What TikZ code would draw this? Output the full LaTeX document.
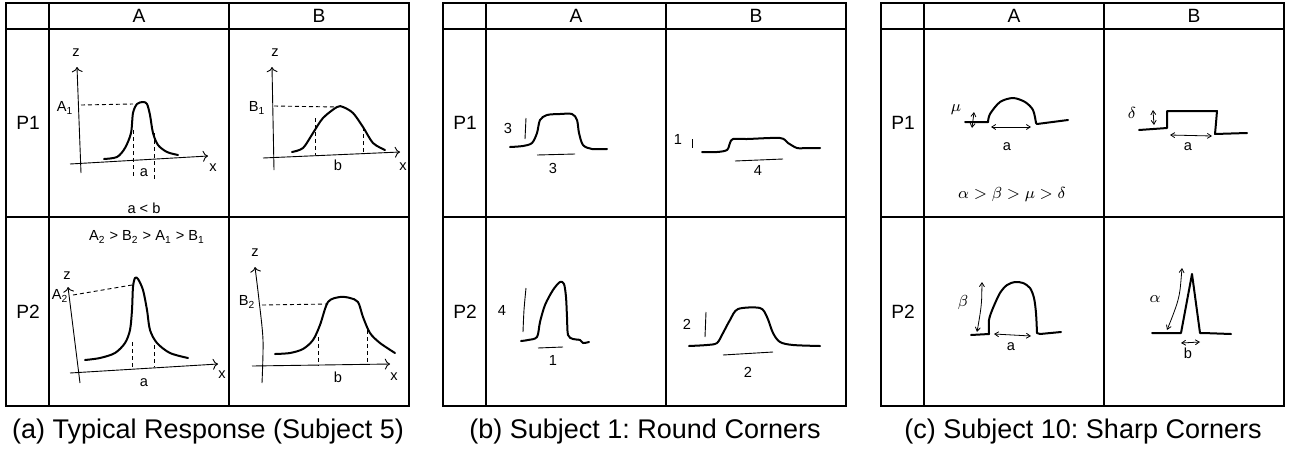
\documentclass[tikz,border=0pt]{standalone}
\usepackage{fontspec}
\setmainfont{Liberation Sans}
\usepackage{amsmath}
\usetikzlibrary{arrows.meta}
\frenchspacing

\tikzset{
    gridline/.style={line width=1pt},
    sketch/.style={line width=1pt, line cap=round, line join=round},
    thinline/.style={line width=0.45pt},
    guide/.style={line width=0.45pt, dash pattern=on 2pt off 1.5pt},
    span/.style={line width=0.4pt, {Straight Barb[length=2pt,width=2.5pt]}-{Straight Barb[length=2pt,width=2.5pt]}},
    lbl/.style={font=\fontsize{7.3}{8.5}\selectfont, inner sep=0pt},
    hdr/.style={font=\fontsize{9.6}{11}\selectfont, inner sep=0pt},
    gk/.style={font=\fontsize{8.5}{10}\selectfont, inner sep=0pt},
    captxt/.style={font=\fontsize{13.5}{16}\selectfont, inner sep=0pt}
}

\begin{document}
\begin{tikzpicture}[x=0.5pt, y=-0.5pt, >=To]
    \useasboundingbox (0,0) rectangle (1290,451);

    % 1. Ba bảng và chú thích
    \foreach \ox/\capt in {6/{(a) Typical Response (Subject 5)},
                           443/{(b) Subject 1: Round Corners},
                           881/{(c) Subject 10: Sharp Corners}} {
        \draw[gridline] (\ox,3) rectangle (\ox+403,406);
        \draw[gridline] (\ox,29) -- (\ox+403,29);
        \draw[gridline] (\ox,217) -- (\ox+403,217);
        \draw[gridline] (\ox+43,3) -- (\ox+43,406);
        \draw[gridline] (\ox+223,3) -- (\ox+223,406);
        \node[hdr] (hA\ox) at (\ox+133,16) {A};
        \node[hdr] (hB\ox) at (\ox+313,16) {B};
        \node[hdr] (rP1\ox) at (\ox+22,123) {P1};
        \node[hdr] (rP2\ox) at (\ox+22,312) {P2};
        \node[captxt] (cap\ox) at (\ox+202,432) {\capt};
    }

    % 2. Bảng (a): ô P1-A
    \node[lbl] (zA1) at (76,53) {z};
    \draw[thinline, ->] plot[smooth] coordinates {(81,173) (79,120) (77,67)};
    \draw[thinline, ->] (70,164) -- (208,156);
    \node[lbl] (xA1) at (213,168) {x};
    \node[lbl] (tA1) at (65,108) {A\textsubscript{1}};
    \draw[guide] (81,105) -- (133,104);
    \draw[sketch] plot[smooth] coordinates {(104,159) (117,157) (125,148) (131,133)
        (133,113) (137,104) (143,102) (147,104) (150,115) (153,133) (158,145)
        (167,152) (178,155)};
    \draw[guide] (133,130) -- (133,178);
    \draw[guide] (154,133) -- (154,180);
    \node[lbl] (wA1) at (144,173) {a};
    \node[lbl] (cmpA1) at (144,208) {a < b};

    % ô P1-B
    \node[lbl] (zB1) at (275,53) {z};
    \draw[thinline, ->] (274,170) -- (272,67);
    \draw[thinline, ->] (263,158) -- (400,152);
    \node[lbl] (xB1) at (403,167) {x};
    \node[lbl] (tB1) at (257,108) {B\textsubscript{1}};
    \draw[guide] (274,106) -- (337,107);
    \draw[sketch] plot[smooth] coordinates {(292,152) (303,148) (313,133) (323,118)
        (337,107) (343,107) (353,113) (363,127) (373,143) (385,150)};
    \draw[guide] (315,118) -- (315,155);
    \draw[guide] (363,127) -- (363,152);
    \node[lbl] (wB1) at (338,165) {b};

    % ô P2-A
    \node[lbl] (ord) at (147,237) {A\textsubscript{2} > B\textsubscript{2} > A\textsubscript{1} > B\textsubscript{1}};
    \node[lbl] (zA2) at (67,276) {z};
    \node[lbl] (tA2) at (60,296) {A\textsubscript{2}};
    \draw[thinline, ->] (80,383) -- (68,287);
    \draw[thinline, ->] (70,373) -- (218,364);
    \node[lbl] (xA2) at (222,375) {x};
    \draw[guide] (73,295) -- (132,285);
    \draw[sketch] plot[smooth] coordinates {(85,360) (100,358) (115,353) (125,343)
        (130,330) (132,310) (133,287) (135,278) (138,279) (143,290) (147,310)
        (150,330) (157,343) (170,353) (188,358)};
    \draw[guide] (132,342) -- (132,368);
    \draw[guide] (154,345) -- (154,367);
    \node[lbl] (wA2) at (144,383) {a};

    % ô P2-B
    \node[lbl] (zB2) at (255,253) {z};
    \draw[thinline, ->] plot[smooth] coordinates {(262,383) (263,340) (259,300) (255,267)};
    \node[lbl] (tB2) at (247,302) {B\textsubscript{2}};
    \draw[guide] (262,305) -- (328,304);
    \draw[thinline, ->] (252,366) -- (390,364);
    \node[lbl] (xB2) at (394,377) {x};
    \draw[sketch] plot[smooth] coordinates {(275,354) (290,353) (303,349) (313,340)
        (320,325) (328,302) (340,297) (350,298) (358,302) (363,317) (370,333)
        (380,343) (395,353)};
    \draw[guide] (318,337) -- (318,366);
    \draw[guide] (367,330) -- (367,363);
    \node[lbl] (wB2) at (338,377) {b};

    % 3. Bảng (b)
    \node[lbl] (hgtA1) at (508,128) {3};
    \draw[thinline] (526,118) -- (525,139);
    \draw[sketch] plot[smooth] coordinates {(510,147) (523,146) (532,143) (537,133)
        (540,120) (547,115) (560,114) (572,114) (577,120) (579,133) (583,145)
        (592,149) (607,149)};
    \draw[thinline] (537,155) -- (575,154);
    \node[lbl] (wdA1) at (553,168) {3};

    \node[lbl] (hgtB1) at (678,139) {1};
    \draw[thinline] (692,139) -- (692,148);
    \draw[sketch] plot[smooth] coordinates {(702,152) (717,152) (727,150) (730,143)
        (733,139) (747,139) (780,138) (788,143) (797,148) (807,148) (820,148)};
    \draw[thinline] (735,161) -- (783,159);
    \node[lbl] (wdB1) at (758,170) {4};

    \node[lbl] (hgtA2) at (502,310) {4};
    \draw[thinline] plot[smooth] coordinates {(526,288) (524,310) (523,332)};
    \draw[sketch] plot[smooth] coordinates {(521,341) (528,340) (537,337) (540,322)
        (545,305) (553,290) (560,282) (564,284) (566,297) (567,317) (568,335)
        (573,339) (580,340) (583,343) (589,342)};
    \draw[thinline] (538,348) -- (563,347);
    \node[lbl] (wdA2) at (553,360) {1};

    \node[lbl] (hgtB2) at (687,324) {2};
    \draw[thinline] (706,312) -- (705,337);
    \draw[sketch] plot[smooth] coordinates {(689,346) (707,345) (717,343) (723,333)
        (730,320) (738,309) (760,308) (767,317) (773,333) (780,342) (793,345)
        (820,346)};
    \draw[thinline] (723,355) -- (773,352);
    \node[lbl] (wdB2) at (748,372) {2};

    % 4. Bảng (c)
    \node[gk] (mu) at (956,110) {$\mu$};
    \draw[span] (974,112) -- (972,128);
    \draw[sketch] plot[smooth] coordinates {(988,122) (990,114) (1000,102) (1013,98)
        (1025,102) (1033,110) (1036,123)};
    \draw[sketch] (965,122) -- (988,122) (1036,123) -- (1037,124) -- (1068,120);
    \draw[span] (991,127) -- (1031,127);
    \node[lbl] (wmu) at (1007,147) {a};
    \node[gk] (order) at (1012,194) {$\alpha > \beta > \mu > \delta$};

    \node[gk] (dl) at (1132,113) {$\delta$};
    \draw[span] (1153,110) -- (1154,125);
    \draw[sketch] (1139,130) -- (1167,128) -- (1167,111) -- (1217,111)
        -- (1216,123) -- (1215,134) -- (1247,133);
    \draw[span] (1170,135) -- (1212,136);
    \node[lbl] (wdl) at (1188,147) {a};

    \node[gk] (bt) at (963,302) {$\beta$};
    \draw[span] plot[smooth] coordinates {(982,282) (981,307) (977,332)};
    \draw[sketch] plot[smooth] coordinates {(989,334) (989,320) (993,308) (1000,293)
        (1007,285) (1015,282) (1023,283) (1030,288) (1034,298) (1036,313) (1037,333)};
    \draw[sketch] (971,335) -- (989,334) (1037,333) -- (1040,334) -- (1061,332);
    \draw[span] (994,334) -- (1031,336);
    \node[lbl] (wbt) at (1011,347) {a};

    \node[gk] (al) at (1155,299) {$\alpha$};
    \draw[span] plot[smooth] coordinates {(1182,268) (1178,300) (1167,330)};
    \draw[sketch] (1152,333) -- (1181,333) -- (1192,274) -- (1200,333) -- (1203,333)
        -- (1231,334);
    \draw[span] (1181,343) -- (1200,342);
    \node[lbl] (wal) at (1188,353) {b};
\end{tikzpicture}
\end{document}
